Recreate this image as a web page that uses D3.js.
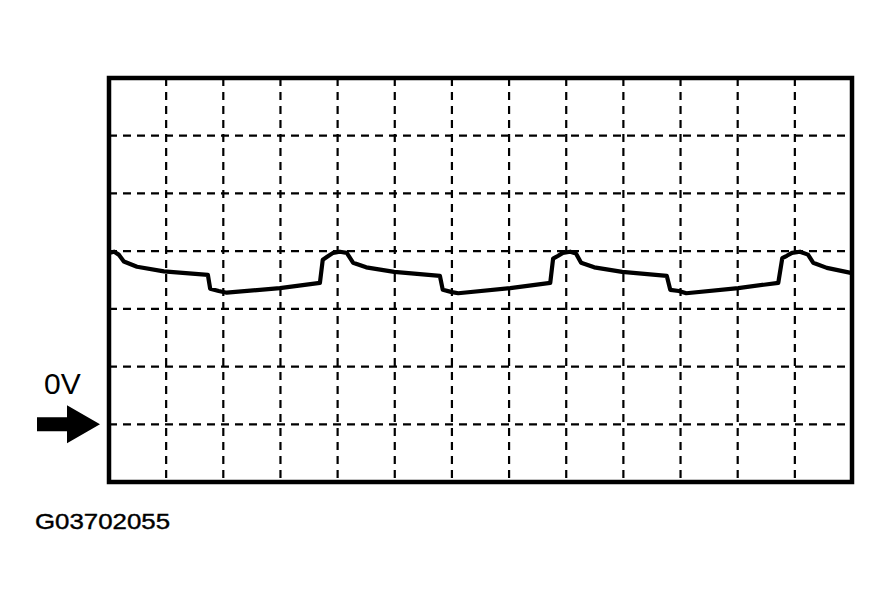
<!DOCTYPE html>
<html>
<head>
<meta charset="utf-8">
<script src="https://cdn.jsdelivr.net/npm/d3@7"></script>
<style>
  html, body { margin: 0; padding: 0; background: #fff; }
  svg { display: block; }
</style>
</head>
<body>
<svg id="chart" width="895" height="604"></svg>
<script>
// Time axis in screen divisions, voltage in divisions above 0V
const xDivisions = [0, 1, 2, 3, 4, 5, 6, 7, 8, 9, 10, 11, 12, 13];
const yDivisions = [-1, 0, 1, 2, 3, 4, 5, 6];
const zeroLabel = "0V";
const figureCode = "G03702055";

const traceTime = [
  0.00, 0.09, 0.17, 0.26, 0.49, 0.96, 1.73, 1.77, 1.92, 2.06, 2.99, 3.69, 3.74, 3.83, 3.92, 4.04, 4.16, 4.27,
  4.50, 4.99, 5.79, 5.84, 6.00, 6.11, 7.02, 7.72, 7.77, 7.86, 7.94, 8.07, 8.17, 8.26,
  8.49, 8.98, 9.76, 9.82, 9.97, 10.10, 11.01, 11.71, 11.78, 11.86, 11.95, 12.09, 12.23, 12.32, 12.56, 13.00
];
const traceVolts = [
  2.97, 2.99, 2.94, 2.82, 2.73, 2.65, 2.59, 2.35, 2.31, 2.28, 2.36, 2.45, 2.85, 2.91, 2.97, 2.99, 2.97, 2.80,
  2.72, 2.64, 2.57, 2.33, 2.29, 2.27, 2.36, 2.45, 2.87, 2.92, 2.97, 2.99, 2.96, 2.80,
  2.72, 2.64, 2.57, 2.33, 2.31, 2.27, 2.36, 2.45, 2.88, 2.92, 2.97, 2.99, 2.94, 2.80, 2.71, 2.62
];

(function () {
const svg = d3.select("#chart");
const pxLeft = 109, pxRight = 852, pxTop = 78, pxBottom = 482;

const x = d3.scaleLinear().domain([0, 13]).range([pxLeft, pxRight]);
const y = d3.scaleLinear().domain([-1, 6]).range([pxBottom, pxTop]);

// dashed grid
const grid = svg.append("g").attr("stroke", "#000").attr("stroke-width", 2.2)
  .attr("stroke-dasharray", "8,6").attr("fill", "none");
grid.selectAll("line.v").data(xDivisions.slice(1, -1)).join("line")
  .attr("class", "v")
  .attr("x1", d => x(d)).attr("x2", d => x(d))
  .attr("y1", pxTop).attr("y2", pxBottom);
grid.selectAll("line.h").data(yDivisions.slice(1, -1)).join("line")
  .attr("class", "h")
  .attr("y1", d => y(d)).attr("y2", d => y(d))
  .attr("x1", pxLeft).attr("x2", pxRight);

// trace
const pts = traceTime.map((t, i) => [t, traceVolts[i]]);
svg.append("path")
  .datum(pts)
  .attr("fill", "none")
  .attr("stroke", "#000")
  .attr("stroke-width", 4.2)
  .attr("stroke-linejoin", "round")
  .attr("stroke-linecap", "butt")
  .attr("d", d3.line().x(d => x(d[0])).y(d => y(d[1])));

// frame
svg.append("rect")
  .attr("x", x(0)).attr("y", y(6))
  .attr("width", x(13) - x(0)).attr("height", y(-1) - y(6))
  .attr("fill", "none").attr("stroke", "#000").attr("stroke-width", 4.5);

// 0V label and arrow
const y0 = y(0);
svg.append("text")
  .attr("x", 44).attr("y", y0 - 30)
  .attr("font-family", "Liberation Sans, Arial, sans-serif")
  .attr("font-size", 30)
  .attr("fill", "#000")
  .text(zeroLabel);

const arrow = d3.path();
arrow.moveTo(37, y0 - 7);
arrow.lineTo(67, y0 - 7);
arrow.lineTo(67, y0 - 19);
arrow.lineTo(100, y0);
arrow.lineTo(67, y0 + 19);
arrow.lineTo(67, y0 + 7);
arrow.lineTo(37, y0 + 7);
arrow.closePath();
svg.append("path").attr("d", arrow.toString()).attr("fill", "#000");

// figure code
svg.append("text")
  .attr("x", 35).attr("y", 529)
  .attr("font-family", "Liberation Sans, Arial, sans-serif")
  .attr("font-size", 22)
  .attr("stroke", "#000")
  .attr("stroke-width", 0.4)
  .attr("textLength", 135)
  .attr("lengthAdjust", "spacingAndGlyphs")
  .attr("fill", "#000")
  .text(figureCode);
})();
</script>
</body>
</html>
